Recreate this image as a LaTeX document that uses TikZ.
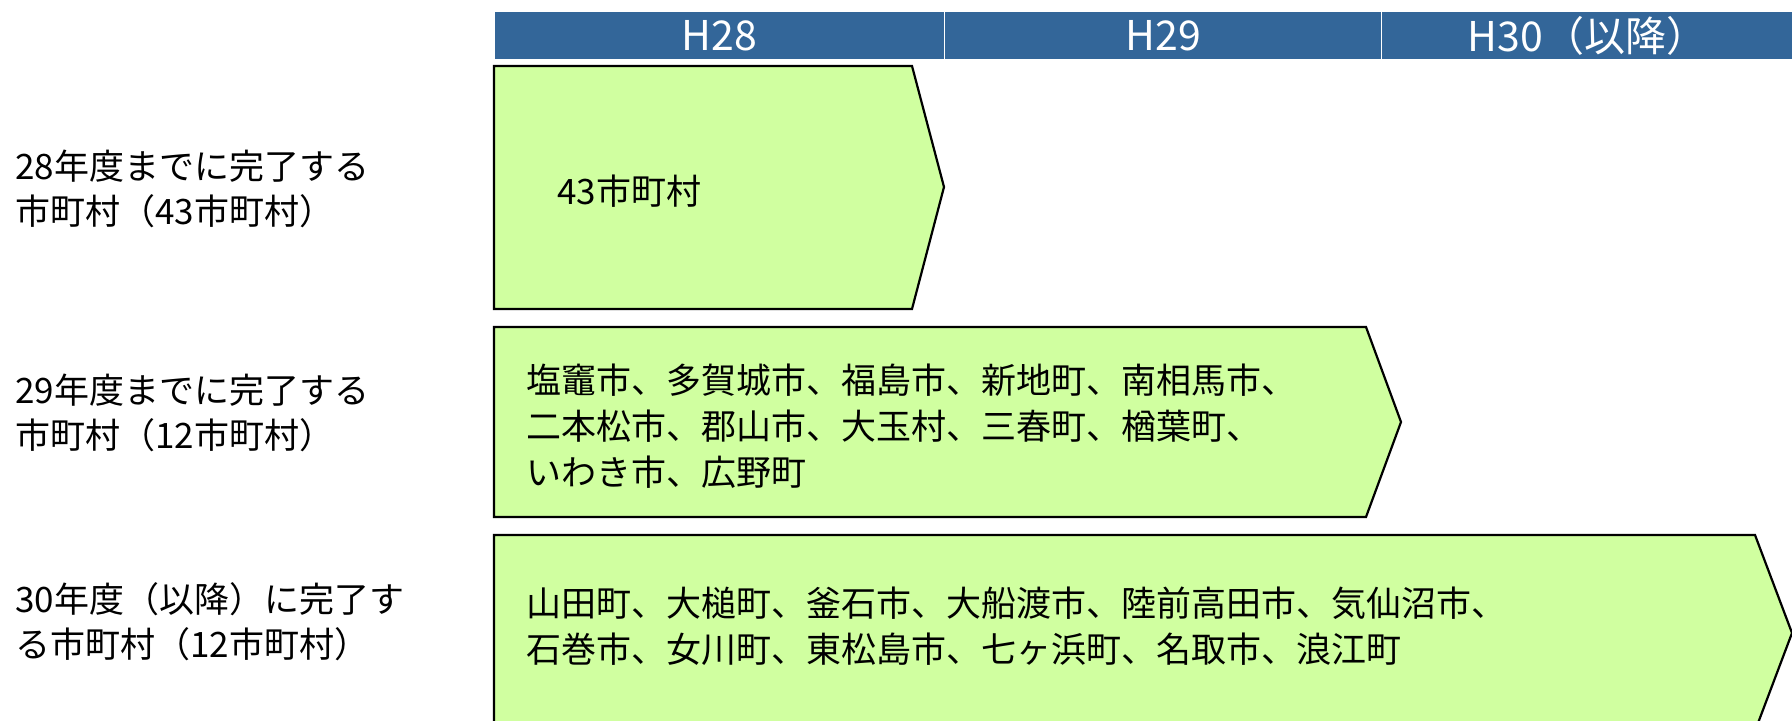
\documentclass[tikz,border=0pt]{standalone}
\usepackage{fontspec}
\setmainfont{Noto Sans CJK JP}
\definecolor{hdrblue}{RGB}{51,102,153}
\definecolor{boxgreen}{RGB}{208,255,160}
\tikzset{
  hdr/.style={fill=hdrblue, draw=white, line width=0.6pt, text=white, inner sep=0pt,
    minimum height=24pt, font=\fontsize{20.5}{24}\selectfont, anchor=north west},
  pent/.style={fill=boxgreen, draw=black, line width=1.1pt, line join=miter},
  lbl/.style={anchor=west, align=left, inner sep=0pt, font=\fontsize{17.5}{22.5}\selectfont},
  boxtxt/.style={anchor=west, align=left, inner sep=0pt, font=\fontsize{17.5}{23}\selectfont}
}
\begin{document}
\begin{tikzpicture}[x=0.5pt,y=-0.5pt]
\useasboundingbox (0,0) rectangle (1792,721);
\clip (0,0) rectangle (1792,721);
% header
\node[hdr, minimum width=225pt] (h28) at (494,11) {H28};
\node[hdr, minimum width=218.5pt] (h29) at (944,11) {H29};
\node[hdr, minimum width=206pt] (h30) at (1381,11) {H30（以降）};
% arrows
\draw[pent] (494,66) -- (912,66) -- (944,187) -- (912,309) -- (494,309) -- cycle;
\draw[pent] (494,327) -- (1366,327) -- (1401,422) -- (1366,517) -- (494,517) -- cycle;
\draw[pent] (494,535) -- (1755,535) -- (1792,633) -- (1755,731) -- (494,731) -- cycle;
% texts in arrows
\node[boxtxt] (t1) at (557,191) {43市町村};
\node[boxtxt] (t2) at (526,426) {塩竈市、多賀城市、福島市、新地町、南相馬市、\\二本松市、郡山市、大玉村、三春町、楢葉町、\\いわき市、広野町};
\node[boxtxt] (t3) at (526,626) {山田町、大槌町、釜石市、大船渡市、陸前高田市、気仙沼市、\\石巻市、女川町、東松島市、七ヶ浜町、名取市、浪江町};
% left labels
\node[lbl] (l1) at (15,189) {28年度までに完了する\\市町村（43市町村）};
\node[lbl] (l2) at (15,413) {29年度までに完了する\\市町村（12市町村）};
\node[lbl] (l3) at (15,622) {30年度（以降）に完了す\\る市町村（12市町村）};
\end{tikzpicture}
\end{document}
